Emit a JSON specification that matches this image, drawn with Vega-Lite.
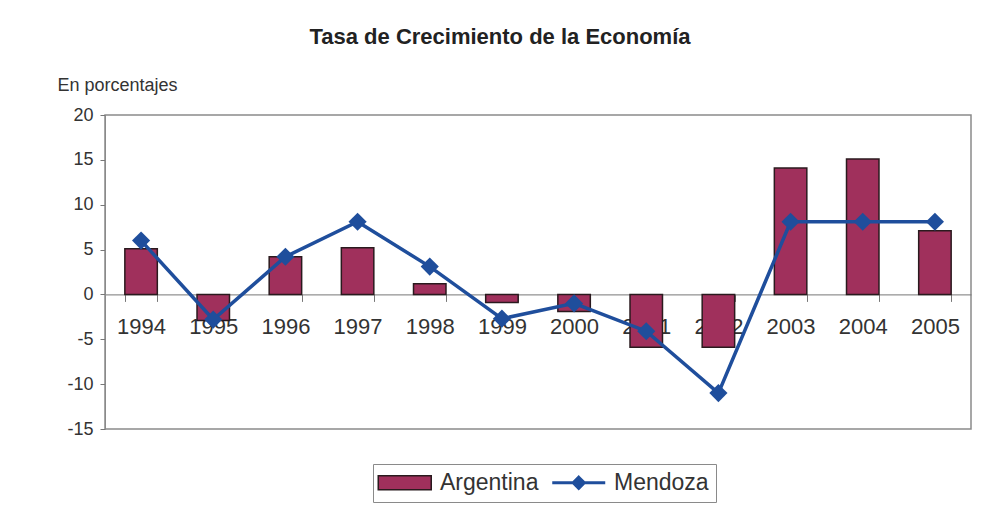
{
  "$schema": "https://vega.github.io/schema/vega-lite/v6.json",
  "autosize": {"type": "none"},
  "padding": {"left": 105, "top": 115, "right": 18, "bottom": 92},
  "width": 866,
  "height": 314,
  "background": "white",
  "title": {
    "text": "Tasa de Crecimiento de la Economía",
    "font": "Liberation Sans",
    "fontSize": 22,
    "fontWeight": "bold",
    "color": "#222222",
    "anchor": "middle",
    "frame": "group",
    "dx": -38,
    "offset": 10,
    "baseline": "alphabetic"
  },
  "config": {
    "view": {"stroke": "#8a8a8a", "strokeWidth": 1.5},
    "font": "Liberation Sans"
  },
  "data": {
    "values": [
      {"year": "1994", "argentina": 5.1, "mendoza": 6.0},
      {"year": "1995", "argentina": -2.9, "mendoza": -2.8},
      {"year": "1996", "argentina": 4.2, "mendoza": 4.2},
      {"year": "1997", "argentina": 5.2, "mendoza": 8.1},
      {"year": "1998", "argentina": 1.2, "mendoza": 3.1},
      {"year": "1999", "argentina": -0.9, "mendoza": -2.7},
      {"year": "2000", "argentina": -1.9, "mendoza": -1.0},
      {"year": "2001", "argentina": -5.9, "mendoza": -4.1},
      {"year": "2002", "argentina": -5.9, "mendoza": -11.0},
      {"year": "2003", "argentina": 14.1, "mendoza": 8.1},
      {"year": "2004", "argentina": 15.1, "mendoza": 8.1},
      {"year": "2005", "argentina": 7.1, "mendoza": 8.1}
    ]
  },
  "encoding": {
    "x": {
      "field": "year",
      "type": "ordinal",
      "scale": {"paddingInner": 0.55, "paddingOuter": 0.275},
      "axis": {
        "title": null,
        "offset": -134.6,
        "labelAngle": 0,
        "labelFontSize": 22,
        "labelColor": "#333333",
        "labelBaseline": "top",
        "labelPadding": 15,
        "tickBand": "extent",
        "tickSize": 7,
        "tickColor": "#777777",
        "domainColor": "#777777",
        "domainWidth": 1,
        "grid": false
      }
    }
  },
  "layer": [
    {
      "mark": {"type": "bar", "stroke": "#2a1a1e", "strokeWidth": 1.5},
      "encoding": {
        "y": {
          "field": "argentina",
          "type": "quantitative",
          "scale": {"domain": [-15, 20], "nice": false, "zero": false},
          "axis": {
            "title": "En porcentajes",
            "titleAngle": 0,
            "titleAlign": "left",
            "titleBaseline": "middle",
            "titleX": -48,
            "titleY": -30,
            "titleFontSize": 18,
            "titleFontWeight": "normal",
            "titleColor": "#333333",
            "values": [-15, -10, -5, 0, 5, 10, 15, 20],
            "labelExpr": "replace(datum.label, '−', '-')",
            "grid": false,
            "labelFontSize": 18,
            "labelColor": "#333333",
            "labelPadding": 7,
            "tickSize": 5,
            "tickColor": "#777777",
            "domainColor": "#8a8a8a"
          }
        },
        "color": {
          "datum": "Argentina",
          "scale": {"domain": ["Argentina", "Mendoza"], "range": ["#A0305C", "#1F4E9C"]},
          "legend": {
            "title": null,
            "orient": "none",
            "legendX": 268,
            "legendY": 349,
            "direction": "horizontal",
            "strokeColor": "#8a8a8a",
            "fillColor": "white",
            "padding": 7,
            "symbolSize": 702,
            "labelOffset": 37,
            "columnPadding": 7,
            "labelFontSize": 23,
            "labelColor": "#333333",
            "symbolOpacity": 1,
            "symbolType": {"expr": "datum.value === 'Argentina' ? 'M-1,-0.53H3V0.53H-1Z' : 'M-1,0H3M1,-0.42L1.42,0L1,0.42L0.58,0Z'"},
            "symbolStrokeColor": {"expr": "datum.value === 'Argentina' ? '#2a1a1e' : '#1F4E9C'"},
            "symbolStrokeWidth": {"expr": "datum.value === 'Argentina' ? 1.5 : 3"}
          }
        }
      }
    },
    {
      "mark": {
        "type": "line",
        "color": "#1F4E9C",
        "strokeWidth": 3.5,
        "point": {"filled": true, "shape": "diamond", "size": 330, "opacity": 1, "color": "#1F4E9C"}
      },
      "encoding": {
        "y": {"field": "mendoza", "type": "quantitative"}
      }
    }
  ]
}
